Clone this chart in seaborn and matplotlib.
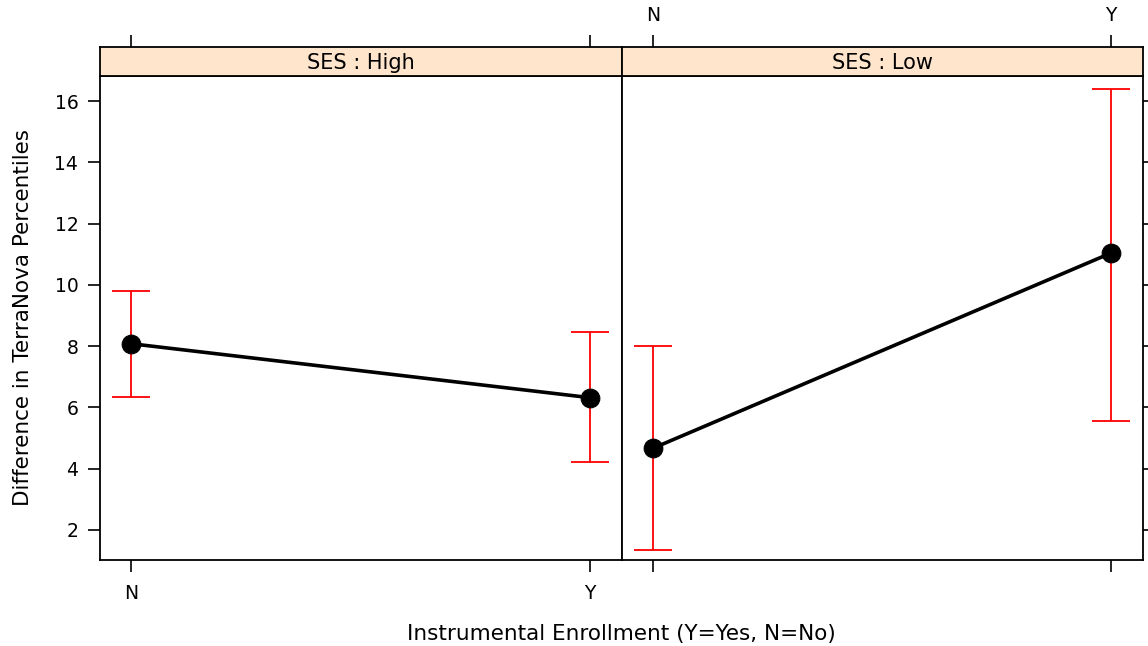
import matplotlib
matplotlib.use('Agg')
import matplotlib.pyplot as plt
import seaborn as sns
import pandas as pd

# ---- data ----
ses_levels = ['High', 'Low']
enroll = ['N', 'Y']
high_mean = [8.08, 6.32]
high_lower = [6.33, 4.21]
high_upper = [9.81, 8.47]
low_mean = [4.67, 11.04]
low_lower = [1.35, 5.57]
low_upper = [7.99, 16.39]
y_ticks = [2, 4, 6, 8, 10, 12, 14, 16]

sns.set_theme(style='white')
plt.rcParams['font.family'] = ['DejaVu Sans']
plt.rcParams['axes.edgecolor'] = 'black'
plt.rcParams['xtick.color'] = 'black'
plt.rcParams['ytick.color'] = 'black'
plt.rcParams['xtick.labelcolor'] = 'black'
plt.rcParams['ytick.labelcolor'] = 'black'

W, H = 1148, 646
fig = plt.figure(figsize=(W / 100, H / 100), dpi=100)


def fr(x0, y0, x1, y1):
    return [x0 / W, 1 - y1 / H, (x1 - x0) / W, (y1 - y0) / H]


panel_px = [(100, 622), (622, 1143)]
means = [high_mean, low_mean]
lowers = [high_lower, low_lower]
uppers = [high_upper, low_upper]

XLIM = (-0.068, 1.07)
YLIM = (1.02, 16.82)
tick_len = 8.6
tick_fs = 13.5
for i, ses in enumerate(ses_levels):
    x0, x1 = panel_px[i]
    ax = fig.add_axes(fr(x0, 76, x1, 560))
    sax = fig.add_axes(fr(x0, 47, x1, 76))
    df = pd.DataFrame({'enroll': enroll, 'mean': means[i],
                       'lo': lowers[i], 'hi': uppers[i]})
    pos = list(range(len(enroll)))
    yerr = [[m - l for m, l in zip(df['mean'], df['lo'])],
            [h - m for m, h in zip(df['mean'], df['hi'])]]
    ax.errorbar(pos, df['mean'], yerr=yerr, fmt='none', ecolor='red',
                elinewidth=1.3, capsize=13.5, capthick=1.3, zorder=2)
    df['pos'] = pos
    sns.lineplot(data=df, x='pos', y='mean', ax=ax, color='black',
                 linewidth=2.6, marker='o', markersize=13.5,
                 markeredgecolor='black', zorder=3)
    ax.set_xlim(XLIM)
    ax.set_ylim(YLIM)
    ax.set_xlabel('')
    ax.set_ylabel('')
    ax.set_xticks(pos)
    ax.set_yticks(y_ticks)
    for s in ax.spines.values():
        s.set_color('black')
        s.set_linewidth(1.3)
    if i == 0:
        ax.set_xticklabels(enroll)
        ax.tick_params(axis='y', left=True, right=False, labelleft=True,
                       length=tick_len, width=1.2, pad=7, labelsize=tick_fs,
                       direction='out', color='black', labelcolor='black')
        ax.tick_params(axis='x', bottom=True, labelbottom=True, length=tick_len,
                       width=1.2, pad=9, labelsize=tick_fs, direction='out',
                       color='black', labelcolor='black')
    else:
        ax.set_xticklabels([])
        ax.tick_params(axis='y', left=False, right=True, labelleft=False,
                       labelright=False, length=tick_len, width=1.2,
                       direction='out', color='black')
        ax.tick_params(axis='x', bottom=True, labelbottom=False,
                       length=tick_len, width=1.2, direction='out',
                       color='black')
    # strip
    sax.set_facecolor('#FFE5CC')
    sax.set_xlim(XLIM)
    sax.set_ylim(0, 1)
    sax.set_yticks([])
    sax.set_xticks(pos)
    sax.xaxis.set_ticks_position('top')
    sax.xaxis.set_label_position('top')
    sax.tick_params(axis='x', top=True, bottom=False, length=tick_len,
                    width=1.2, direction='out', color='black', pad=7,
                    labelsize=tick_fs, labeltop=(i == 1), labelbottom=False,
                    labelcolor='black')
    if i == 1:
        sax.set_xticklabels(enroll)
    else:
        sax.set_xticklabels([])
    for s in sax.spines.values():
        s.set_color('black')
        s.set_linewidth(1.3)
    sax.text(0.5, 0.45, f'SES : {ses}', transform=sax.transAxes,
             ha='center', va='center', fontsize=15, color='black')

fig.text(621 / W, 1 - 634 / H, 'Instrumental Enrollment (Y=Yes, N=No)',
         ha='center', va='center', fontsize=15.5, color='black')
fig.text(23 / W, 1 - 318 / H, 'Difference in TerraNova Percentiles',
         ha='center', va='center', rotation=90, fontsize=15.5, color='black')

fig.savefig('out.png', dpi=100, facecolor='white')
